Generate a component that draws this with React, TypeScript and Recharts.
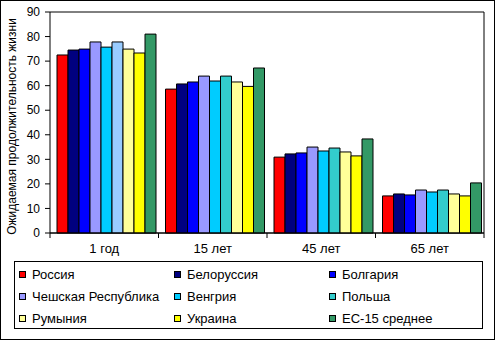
import { BarChart, Bar, XAxis, YAxis, CartesianGrid, Legend, Cell } from "recharts";

const categories = ["1 год", "15 лет", "45 лет", "65 лет"];

const countries = [
  "Россия",
  "Белоруссия",
  "Болгария",
  "Чешская Республика",
  "Венгрия",
  "Польша",
  "Румыния",
  "Украина",
  "ЕС-15 среднее",
];

const colors = ["#FF0000", "#000080", "#0000FF", "#9999FF", "#00CCFF", "#33CCCC", "#FFFF99", "#FFFF00", "#339966"];

// Польша in the first group is drawn in a lighter blue in the original
const polandFirstFill = "#99CCFF";

const russia = [72.5, 58.6, 30.9, 15.1];
const belarus = [74.5, 60.7, 32.2, 15.9];
const bulgaria = [74.9, 61.5, 32.6, 15.5];
const czech = [77.8, 63.9, 35.0, 17.5];
const hungary = [75.7, 61.9, 33.4, 16.7];
const poland = [77.8, 63.9, 34.6, 17.5];
const romania = [74.9, 61.5, 33.0, 15.9];
const ukraine = [73.3, 59.7, 31.4, 15.1];
const eu15 = [81.0, 67.2, 38.3, 20.4];

const series = [russia, belarus, bulgaria, czech, hungary, poland, romania, ukraine, eu15];

const yTicks = [0, 10, 20, 30, 40, 50, 60, 70, 80, 90];

const data = categories.map((name, i) => {
  const row: any = { name };
  series.forEach((s, j) => {
    row["s" + j] = s[i];
  });
  return row;
});

const font = "Arial, 'Liberation Sans', sans-serif";

// category label plus Excel-style tick marks on the band edges
function CatTick(props: any) {
  const { x, y, payload, index, width } = props;
  const band = width / categories.length;
  const left = x - band / 2;
  const right = x + band / 2;
  return (
    <g>
      <line x1={left} y1={y} x2={left} y2={y + 5} stroke="#000" />
      {index === categories.length - 1 && <line x1={right} y1={y} x2={right} y2={y + 5} stroke="#000" />}
      <text x={x} y={y + 20} textAnchor="middle" fontSize={13} fontFamily={font} fill="#000">
        {payload.value}
      </text>
    </g>
  );
}

function YLabel(props: any) {
  const vb = props.viewBox;
  const x = vb.x + 12;
  const y = vb.y + vb.height / 2 + 4;
  return (
    <text
      x={x}
      y={y}
      transform={`rotate(-90, ${x}, ${y})`}
      textAnchor="middle"
      dominantBaseline="central"
      fontSize={12}
      fontFamily={font}
      fill="#000"
    >
      Ожидаемая продолжительность жизни
    </text>
  );
}

function LegendBox() {
  return (
    <div
      style={{
        boxSizing: "border-box",
        width: 469,
        height: 68,
        border: "1px solid #000",
        display: "grid",
        gridTemplateColumns: "155px 155px 155px",
        gridAutoRows: "22px",
        padding: "1px 0 0 4px",
        fontFamily: font,
        fontSize: 13,
        color: "#000",
        background: "#fff",
      }}
    >
      {countries.map((c, i) => (
        <div key={c} style={{ display: "flex", alignItems: "center", whiteSpace: "nowrap" }}>
          <span
            style={{
              display: "inline-block",
              width: 5,
              height: 5,
              border: "1px solid #000",
              background: colors[i],
              marginRight: 6,
            }}
          />
          {c}
        </div>
      ))}
    </div>
  );
}

export default function App() {
  return (
    <div style={{ position: "absolute", left: 0, top: 0, width: 495, height: 340, background: "#fff" }}>
      <BarChart
        width={495}
        height={340}
        data={data}
        margin={{ top: 12, right: 10, left: 0, bottom: 77 }}
        barCategoryGap={7}
        barGap={0}
      >
        <CartesianGrid vertical={false} stroke="#000" strokeOpacity={1} />
        <XAxis
          dataKey="name"
          height={30}
          tickLine={false}
          tickSize={0}
          tickMargin={0}
          axisLine={{ stroke: "#000" }}
          tick={<CatTick />}
          interval={0}
        />
        <YAxis
          yAxisId="left"
          width={50}
          domain={[0, 90]}
          ticks={yTicks}
          tickSize={5}
          tickMargin={5}
          axisLine={{ stroke: "#000" }}
          tickLine={{ stroke: "#000" }}
          tick={{ fill: "#000", fontSize: 12, fontFamily: font }}
          label={{ content: <YLabel /> }}
          interval={0}
        />
        <YAxis
          yAxisId="right"
          orientation="right"
          width={1}
          domain={[0, 90]}
          tick={false}
          tickLine={false}
          axisLine={{ stroke: "#000" }}
        />
        <Legend
          verticalAlign="middle"
          layout="horizontal"
          content={<LegendBox />}
          wrapperStyle={{ position: "absolute", left: 14, top: 261, width: 469, height: 68 }}
        />
        {countries.map((c, j) => (
          <Bar
            key={c}
            dataKey={"s" + j}
            name={c}
            yAxisId="left"
            fill={colors[j]}
            stroke="#000"
            strokeWidth={1}
            isAnimationActive={false}
          >
            {data.map((d, i) => (
              <Cell key={d.name} fill={j === 5 && i === 0 ? polandFirstFill : colors[j]} />
            ))}
          </Bar>
        ))}
      </BarChart>
      <div
        style={{
          position: "absolute",
          left: 0,
          top: 0,
          width: 495,
          height: 340,
          boxSizing: "border-box",
          border: "1px solid #000",
          pointerEvents: "none",
        }}
      />
    </div>
  );
}
